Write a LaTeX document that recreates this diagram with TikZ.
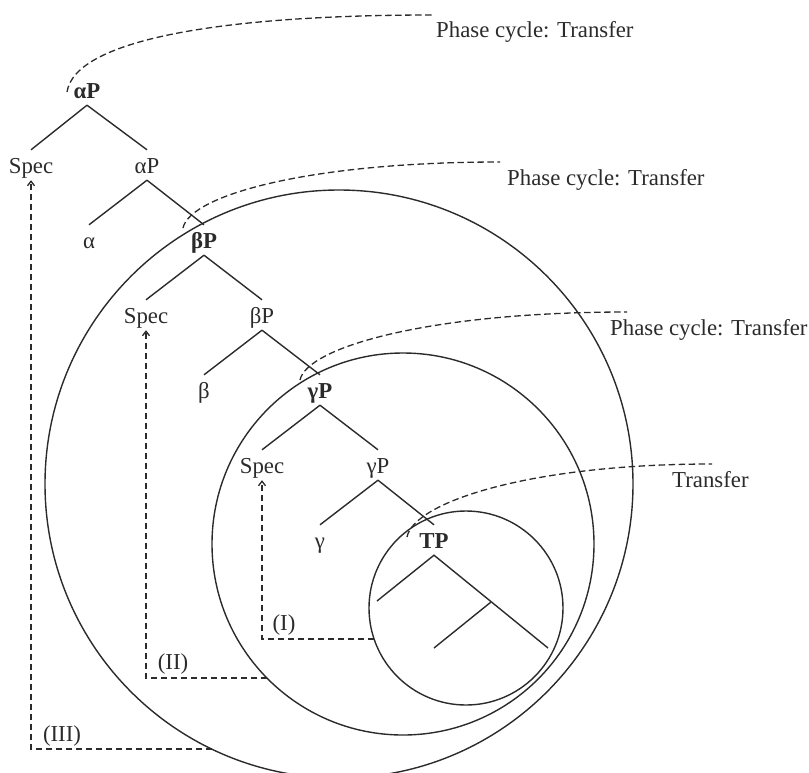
\documentclass[tikz,border=0pt]{standalone}
\usepackage{fontspec}
\setmainfont{Liberation Serif}
\usetikzlibrary{arrows.meta}
\definecolor{ink}{HTML}{2B2B2B}
\begin{document}
\begin{tikzpicture}[x=1pt,y=-1pt,
  lbl/.style={font=\fontsize{22.8}{27}\selectfont, text=ink, inner sep=0pt},
  tnode/.style={lbl, anchor=base, text height=19pt, text depth=3pt, inner ysep=4pt, inner xsep=0pt},
  bnode/.style={tnode, font=\fontsize{22.8}{27}\selectfont\bfseries},
  branch/.style={draw=ink, line width=1.4pt},
  ring/.style={draw=ink, line width=1.4pt},
  phase/.style={draw=ink, line width=1.3pt, dash pattern=on 6.5pt off 3.5pt},
  move/.style={draw=ink, line width=1.3pt, dash pattern=on 6.5pt off 3.5pt, -{Straight Barb[length=4.5pt,width=7pt]}}
]
\useasboundingbox (0,0) rectangle (809,772);

% circles
\draw[ring] (339,484) circle[radius=294pt];
\draw[ring] (403,544) circle[radius=191pt];
\draw[ring] (466,608) circle[radius=97pt];

% tree labels
\node[bnode] (aP1) at (87,98) {αP};
\node[tnode] (spec1) at (31,173) {Spec};
\node[tnode] (aP2) at (147,173) {αP};
\node[tnode] (alpha) at (89,248) {α};
\node[bnode] (bP1) at (204,248) {βP};
\node[tnode] (spec2) at (146,323) {Spec};
\node[tnode] (bP2) at (262,323) {βP};
\node[tnode] (beta) at (204,398) {β};
\node[bnode] (gP1) at (320,398) {γP};
\node[tnode] (spec3) at (262,473) {Spec};
\node[tnode] (gP2) at (378,473) {γP};
\node[tnode] (gamma) at (320,548) {γ};
\node[bnode] (TP) at (434,548) {TP};

% TP subtree points
\coordinate (tl) at (377,601);
\coordinate (tm) at (491,602);
\coordinate (tr) at (548,648);
\coordinate (tml) at (434,648);

% branches
\draw[branch] (aP1.south) -- (spec1.north);
\draw[branch] (aP1.south) -- (aP2.north);
\draw[branch] (aP2.south) -- (alpha.north);
\draw[branch] (aP2.south) -- (bP1.north);
\draw[branch] (bP1.south) -- (spec2.north);
\draw[branch] (bP1.south) -- (bP2.north);
\draw[branch] (bP2.south) -- (beta.north);
\draw[branch] (bP2.south) -- (gP1.north);
\draw[branch] (gP1.south) -- (spec3.north);
\draw[branch] (gP1.south) -- (gP2.north);
\draw[branch] (gP2.south) -- (gamma.north);
\draw[branch] (gP2.south) -- (TP.north);
\draw[branch] (tl) -- (TP.south) -- (tr);
\draw[branch] (tm) -- (tml);

% phase texts
\node[lbl, anchor=base west] (ph1) at (436,37) {Phase cycle: Transfer};
\node[lbl, anchor=base west] (ph2) at (507,185) {Phase cycle: Transfer};
\node[lbl, anchor=base west] (ph3) at (610,335) {Phase cycle: Transfer};
\node[lbl, anchor=base west] (ph4) at (672,487) {Transfer};

% phase curves
\coordinate (s1) at (67,92);   \coordinate (e1) at (432,15);
\coordinate (s2) at (183,228); \coordinate (e2) at (500,162);
\coordinate (s3) at (300,380); \coordinate (e3) at (627,312);
\coordinate (s4) at (407,537); \coordinate (e4) at (712,464);
\draw[phase] (s1) .. controls (75,40) and (220,15) .. (e1);
\draw[phase] (s2) .. controls (190,195) and (310,162) .. (e2);
\draw[phase] (s3) .. controls (307,347) and (430,312) .. (e3);
\draw[phase] (s4) .. controls (414,502) and (530,464) .. (e4);

% movement arrows
\coordinate (endI) at (374,639);
\coordinate (endII) at (267,678);
\coordinate (endIII) at (212,749);
\draw[move] (endI) -| (spec3.south);
\draw[move] (endII) -| (spec2.south);
\draw[move] (endIII) -| (spec1.south);
\node[lbl, anchor=base] (labI) at (284,630) {(I)};
\node[lbl, anchor=base] (labII) at (173,669) {(II)};
\node[lbl, anchor=base] (labIII) at (62,741) {(III)};
\end{tikzpicture}
\end{document}
